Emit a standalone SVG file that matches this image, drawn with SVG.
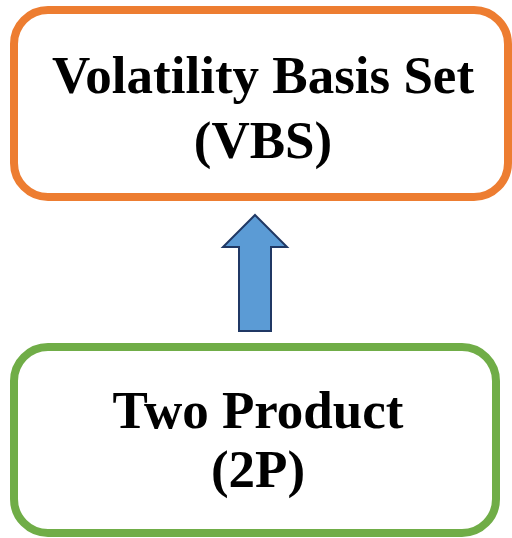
<svg xmlns="http://www.w3.org/2000/svg" width="512" height="538" viewBox="0 0 512 538">
<style>
.box{fill:#ffffff;stroke-width:8}
.t{font-family:"Liberation Serif","Times New Roman",serif;font-weight:bold;font-size:53px;fill:#000000;text-anchor:middle}
</style>
<rect width="512" height="538" fill="#ffffff"/>
<g id="vbs">
<rect class="box" x="14" y="10" width="494" height="187" rx="34" ry="34" stroke="#ED7D31"/>
<text class="t" x="263" y="93">Volatility Basis Set</text>
<text class="t" x="263" y="158">(VBS)</text>
</g>
<g id="twoproduct">
<rect class="box" x="14" y="347" width="482" height="186" rx="34" ry="34" stroke="#70AD47"/>
<text class="t" x="258" y="428">Two Product</text>
<text class="t" x="258" y="487">(2P)</text>
</g>
<g id="connectors">
<polygon points="255,215 287,247 271,247 271,331 239,331 239,247 223,247" fill="#5B9BD5" stroke="#203864" stroke-width="2" stroke-linejoin="miter"/>
</g>
</svg>
